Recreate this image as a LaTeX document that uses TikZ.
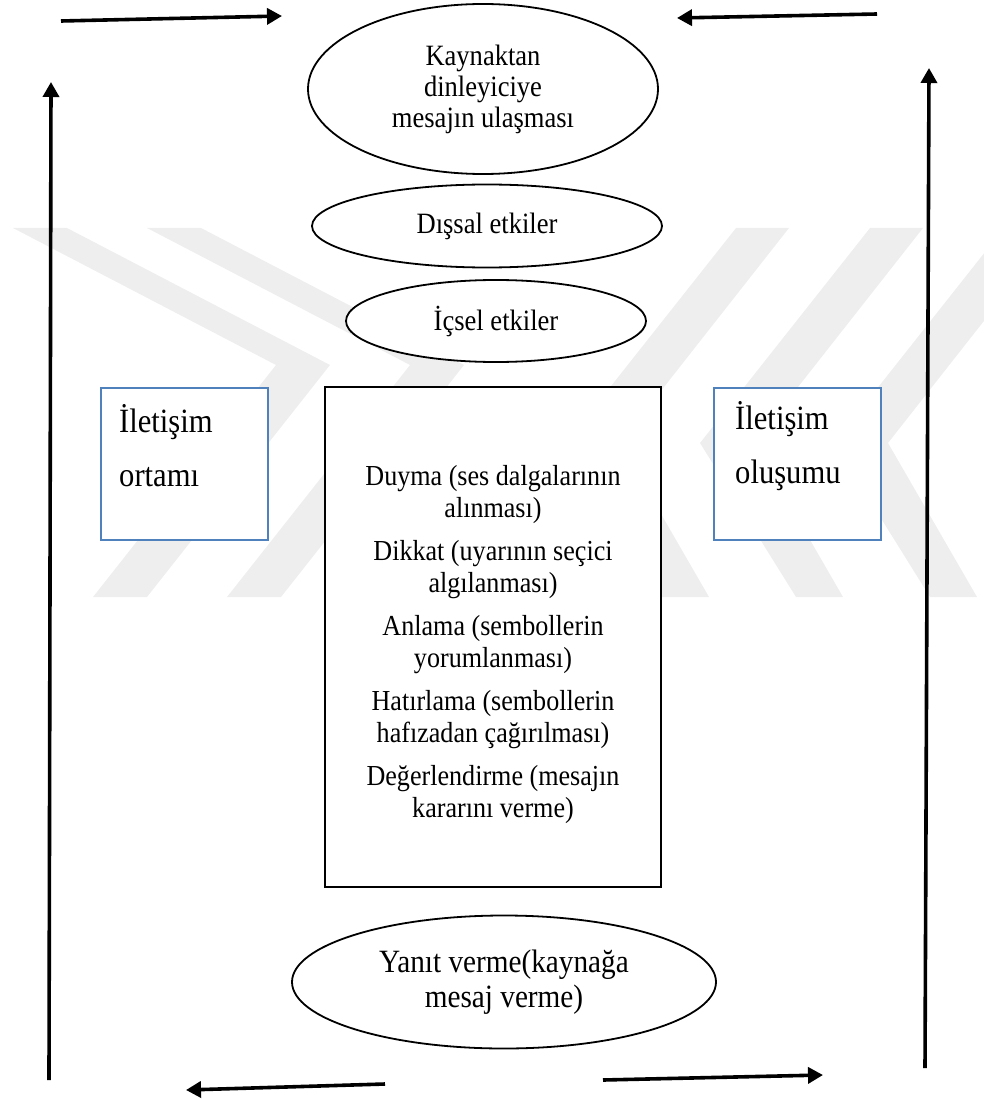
\documentclass[tikz,border=0pt]{standalone}
\usepackage{fontspec}
\setmainfont{Liberation Serif}[FakeStretch=0.9]
\usetikzlibrary{shapes.geometric,arrows.meta}
\definecolor{boxblue}{RGB}{79,129,189}
\definecolor{boxshadow}{RGB}{56,93,138}
\definecolor{wm}{RGB}{238,238,238}
\newcommand{\fsz}[2]{\fontsize{#1}{#2}\selectfont}
\tikzset{
  arr/.style={line width=3.6pt, -{Triangle[length=15pt,width=16pt]}},
  ell/.style={ellipse, draw, line width=1.8pt, fill=white, inner sep=0pt, align=center},
  bluebox/.style={rectangle, draw=boxblue, line width=2.2pt, fill=white, minimum width=167pt, minimum height=152pt, inner sep=0pt},
  midbox/.style={rectangle, draw, line width=2.3pt, fill=white, inner sep=0pt, minimum width=336pt, minimum height=500pt},
  txt/.style={inner sep=0pt, align=center},
  wmark/.style={fill=wm, draw=none},
}
\begin{document}
\begin{tikzpicture}[x=1pt,y=-1pt]
\useasboundingbox (0,0) rectangle (983,1099);
% faint watermark
\fill[wmark] (13,228) -- (67,228) -- (330,365) -- (147,597) -- (93,597) -- (276,365) -- cycle;
\fill[wmark] (147,228) -- (201,228) -- (464,365) -- (281,597) -- (227,597) -- (410,365) -- cycle;
\fill[wmark] (736,228) -- (789,228) -- (620,443) -- (709,597) -- (662,597) -- (566,443) -- cycle;
\fill[wmark] (870,228) -- (923,228) -- (754,443) -- (843,597) -- (796,597) -- (700,443) -- cycle;
\fill[wmark] (1004,228) -- (1057,228) -- (888,443) -- (977,597) -- (930,597) -- (834,443) -- cycle;

% ellipses
\node[ell, minimum width=350pt, minimum height=170pt, font=\fsz{29.5}{31}] (src) at (483,89) {Kaynaktan\\dinleyiciye\\mesajın ulaşması};
\node[ell, minimum width=350pt, minimum height=83pt, font=\fsz{29.5}{31}] (dis) at (487,226) {Dışsal etkiler};
\node[ell, minimum width=300pt, minimum height=82pt, font=\fsz{29.5}{31}] (ic) at (496,321) {İçsel etkiler};

% side boxes
\node[bluebox] (ortam) at (184.5,464) {};
\node[txt, anchor=west, align=left, font=\fsz{34}{54}] (ortamT) at (119,446) {İletişim\\ortamı};
\node[bluebox] (olus) at (797.5,464) {};
\node[txt, anchor=west, align=left, font=\fsz{34}{54}] (olusT) at (735,446) {İletişim\\oluşumu};

% middle box
\node[midbox] (mid) at (493,637) {};
\node[txt, font=\fsz{29}{32}] (midT) at (493,645) {Duyma (ses dalgalarının\\alınması)\\[11pt]Dikkat (uyarının seçici\\algılanması)\\[11pt]Anlama (sembollerin\\yorumlanması)\\[11pt]Hatırlama (sembollerin\\hafızadan çağırılması)\\[11pt]Değerlendirme (mesajın\\kararını verme)};

% bottom ellipse
\node[ell, minimum width=424pt, minimum height=133pt, font=\fsz{32.5}{35}] (yanit) at (504,982) {Yanıt verme(kaynağa\\mesaj verme)};

% arrows
\coordinate (a1s) at (61,21);   \coordinate (a1e) at (282,16);
\coordinate (a2s) at (877,14);  \coordinate (a2e) at (677,18);
\coordinate (a3s) at (49,1080); \coordinate (a3e) at (51,82);
\coordinate (a4s) at (925,1068);\coordinate (a4e) at (929,68);
\coordinate (a5s) at (385,1084);\coordinate (a5e) at (186,1090);
\coordinate (a6s) at (603,1080);\coordinate (a6e) at (823,1075);
\draw[arr] (a1s) -- (a1e);
\draw[arr] (a2s) -- (a2e);
\draw[arr] (a3s) -- (a3e);
\draw[arr] (a4s) -- (a4e);
\draw[arr] (a5s) -- (a5e);
\draw[arr] (a6s) -- (a6e);
\end{tikzpicture}
\end{document}
